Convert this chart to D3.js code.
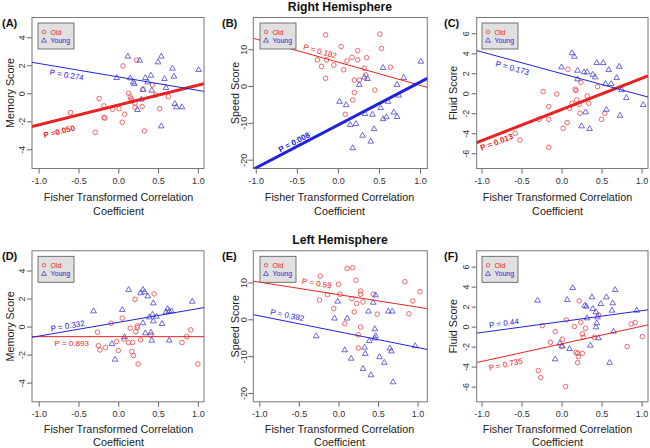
<!DOCTYPE html>
<html><head><meta charset="utf-8">
<script src="https://cdn.jsdelivr.net/npm/d3@7"></script>
<style>body{margin:0;background:#fff} svg{display:block;font-family:"Liberation Sans",Arial,sans-serif}</style>
</head><body><svg id="c" width="650" height="448"></svg>
<script>
// ---------------- DATA ----------------
const panelIds = ["A","B","C","D","E","F"];
const hemispheres = ["Right Hemisphere","Left Hemisphere"];
const scoreNames = ["Memory Score","Speed Score","Fluid Score"];
const xTitleLines = ["Fisher Transformed Correlation","Coefficient"];
const legendLabels = ["Old","Young"];
const xTicks = [-1.0,-0.5,0.0,0.5,1.0];
const yTicksByScore = [[-4,-2,0,2,4],[-20,-10,0,10],[-6,-4,-2,0,2,4,6]];
const yRangesByScore = [[-5.37,5.41],[-22.4,18.6],[-7.52,7.58]];
const xRanges = [[-1.084,1.077],[-1.03,1.088],[-1.06,1.08],[-1.084,1.077],[-1.076,1.123],[-1.06,1.08]];

const oldA = [[-0.60,-1.38],[-0.29,-2.79],[-0.24,-0.38],[-0.18,-0.90],[-0.18,-1.71],[-0.17,-1.78],[-0.07,-1.14],[0.01,-1.10],[0.05,-2.07],[0.06,1.95],[0.08,-1.50],[0.13,0.00],[0.15,-0.25],[0.16,-0.40],[0.17,-0.55],[0.21,-0.70],[0.21,-1.00],[0.23,2.36],[0.30,-0.95],[0.31,0.29],[0.33,-2.69],[0.43,0.60],[0.47,-0.12],[0.52,-1.10],[0.63,-0.24]];
const youngA = [[-0.02,1.14],[0.12,2.67],[0.15,1.12],[0.19,0.83],[0.20,0.71],[0.27,2.38],[0.24,-1.14],[0.29,-0.40],[0.31,0.29],[0.34,1.14],[0.37,0.83],[0.41,1.31],[0.42,0.24],[0.50,2.26],[0.54,2.67],[0.54,-2.31],[0.58,1.07],[0.60,0.43],[0.68,1.81],[0.70,1.24],[0.71,-0.71],[0.73,-0.95],[0.80,-0.95],[1.01,1.71]];
const oldB = [[-0.15,13.9],[-0.25,7.1],[-0.20,5.3],[-0.14,7.1],[-0.15,2.1],[-0.05,5.7],[0.04,10.7],[0.07,4.4],[0.11,6.8],[0.17,7.8],[0.20,1.6],[0.24,9.6],[0.24,7.1],[0.26,1.6],[0.32,4.8],[0.35,7.7],[0.34,3.0],[0.20,-1.8],[0.18,-3.8],[0.09,-7.7],[0.45,-1.1],[0.51,14.1],[0.53,10.2],[0.64,5.1]];
const youngB = [[0.02,-4.1],[0.10,-5.0],[0.15,-10.4],[0.22,-10.1],[0.26,0.5],[0.30,-13.3],[0.32,2.5],[0.36,2.1],[0.33,-7.4],[0.40,-14.9],[0.42,-7.6],[0.44,-11.5],[0.52,-5.8],[0.55,-8.8],[0.55,5.1],[0.59,-8.3],[0.61,-4.1],[0.68,-7.0],[0.72,-8.2],[0.72,0.5],[0.74,-2.4],[0.80,2.4],[1.01,6.8],[0.18,-16.7]];
const oldC = [[-0.23,0.17],[-0.28,-2.6],[-0.16,-1.33],[-0.16,-2.6],[-0.16,-5.4],[-0.06,-0.07],[0.02,-3.5],[0.07,-2.93],[0.08,2.4],[0.10,-1.5],[0.13,-1.0],[0.19,-0.67],[0.22,-1.1],[0.23,-2.0],[0.32,-0.27],[0.34,-1.0],[0.17,0.4],[0.18,0.27],[0.24,1.1],[0.45,0.67],[0.50,-2.6],[0.54,-2.0],[-0.58,-4.0],[-0.52,-4.67]];
const youngC = [[0.00,2.67],[0.13,4.07],[0.16,3.73],[0.20,2.33],[0.20,1.47],[0.28,2.17],[0.32,2.17],[0.25,-3.23],[0.30,-1.83],[0.35,-3.5],[0.39,1.93],[0.42,1.67],[0.44,3.1],[0.52,3.1],[0.55,1.0],[0.56,-1.57],[0.59,2.4],[0.62,1.0],[0.69,1.6],[0.72,2.73],[0.73,-2.17],[0.75,0.4],[0.81,-0.4],[1.02,-1.1]];
const oldD = [[-0.26,-0.40],[-0.25,-1.36],[-0.23,-1.67],[-0.16,-1.50],[-0.09,0.24],[-0.02,-1.07],[0.00,-1.71],[0.05,0.60],[0.07,-0.90],[0.15,-0.12],[0.17,-1.79],[0.19,-2.07],[0.21,1.95],[0.22,-0.36],[0.24,-0.07],[0.24,0.05],[0.13,-1.14],[0.18,-1.14],[0.28,-0.95],[0.25,-2.67],[0.41,-0.60],[0.45,2.33],[0.80,-1.14],[0.86,-0.71],[0.91,-0.24],[1.00,-2.67]];
const youngD = [[-0.31,1.14],[-0.04,-2.31],[-0.08,-1.19],[0.05,1.24],[0.08,-0.71],[0.13,2.67],[0.28,2.43],[0.31,2.67],[0.33,2.50],[0.37,2.21],[0.31,0.29],[0.34,-0.43],[0.39,0.71],[0.41,-0.38],[0.42,-0.95],[0.43,0.90],[0.44,1.71],[0.44,0.43],[0.48,0.76],[0.55,0.24],[0.60,1.07],[0.62,1.31],[0.64,1.14],[0.67,1.14],[0.64,-0.95],[0.93,1.83]];
const oldE = [[-0.23,11.7],[-0.24,5.2],[-0.14,6.7],[-0.06,2.9],[0.00,9.5],[0.02,6.8],[0.08,-1.2],[0.11,13.8],[0.18,14.0],[0.17,5.6],[0.20,2.0],[0.22,10.6],[0.23,4.3],[0.25,-4.2],[0.28,7.7],[0.28,6.8],[0.28,-2.1],[0.31,4.7],[0.25,-7.8],[0.44,6.8],[0.49,1.4],[0.84,10.2],[0.89,1.5],[0.94,5.0],[1.03,7.5]];
const youngE = [[-0.28,-4.4],[-0.01,5.0],[-0.05,0.4],[0.11,0.4],[0.08,-8.2],[0.16,-10.5],[0.33,-7.5],[0.34,-9.2],[0.38,2.3],[0.44,4.7],[0.47,6.7],[0.46,-2.5],[0.47,-4.4],[0.46,-5.0],[0.39,-5.7],[0.52,-10.1],[0.58,-11.6],[0.63,2.3],[0.68,2.3],[0.65,-7.7],[0.67,-8.5],[0.97,-7.1],[0.31,-13.3],[0.41,-15.0],[0.69,-16.9]];
const oldF = [[-0.24,0.10],[-0.08,-0.50],[-0.14,-1.57],[0.00,-2.00],[0.01,-1.27],[0.06,0.67],[0.16,0.00],[0.18,-2.57],[0.20,-2.67],[0.21,-3.00],[0.26,-2.67],[0.22,2.57],[0.24,0.43],[0.26,-0.73],[0.27,-1.07],[0.30,-0.17],[0.41,-1.07],[0.46,1.17],[0.82,-2.00],[0.87,0.27],[0.92,0.40],[1.01,-1.00],[-0.29,-4.4],[-0.26,-5.1],[0.05,-6.0],[0.20,-3.6]];
const youngF = [[-0.30,2.67],[-0.08,-3.2],[-0.02,-1.6],[0.01,-1.9],[0.10,-2.17],[0.07,2.73],[0.14,3.93],[0.29,2.17],[0.31,2.07],[0.32,0.90],[0.36,-1.83],[0.38,3.00],[0.39,1.83],[0.43,1.50],[0.43,0.00],[0.44,0.40],[0.45,1.00],[0.46,-1.10],[0.49,2.33],[0.56,3.00],[0.63,1.67],[0.64,2.40],[0.65,-0.43],[0.67,3.73],[0.94,1.67],[0.60,-3.55]];

// regression fits [intercept, slope]
const oldFits = [[-0.84,1.42],[6.48,-6.29],[-1.63,3.11],[-0.72,0.0],[6.70,-3.39],[-1.73,1.76]];
const youngFits = [[1.17,-0.96],[-10.6,11.66],[1.97,-2.17],[0.30,0.98],[-3.36,-4.30],[0.50,1.09]];
const oldP = ["0.050","0.182","0.013","0.893","0.59","0.735"];
const youngP = ["0.274","0.008","0.173","0.332","0.382","0.44"];
const oldPText = ["P =0.050","P = 0.182","P = 0.013","P = 0.893","P = 0.59","P = 0.735"];
const youngPText = ["P = 0.274","P = 0.008","P = 0.173","P = 0.332","P = 0.382","P = 0.44"];

const oldSets = [oldA,oldB,oldC,oldD,oldE,oldF];
const youngSets = [youngA,youngB,youngC,youngD,youngE,youngF];

// ---------------- LAYOUT ----------------
const RED = "#e82222", BLUE = "#2323d6", RED_PT = "#e8444a", BLUE_PT = "#4545cc";
const cols = [
  {left:32, right:204, tickOff:10, titleOff:22, xTitleX:118.5, label:2, legend:38},
  {left:253.3, right:427.3, tickOff:9, titleOff:18, xTitleX:339.5, label:222, legend:260},
  {left:476.7, right:648, tickOff:11, titleOff:24, xTitleX:557.5, label:444, legend:482}
];
const rows = [{top:17.5, bottom:168.5, title:10.5, xt:32, lh:14}, {top:250.8, bottom:401.8, title:243.5, xt:30.8, lh:13.3}];
// P label placement: [anchor pixel x, vertical offset from line]
const oldLab = [[59.3,12],[320,-5.5],[496.7,7.5],[71.7,6.5],[316.7,-7.5],[505.7,8.5]];
const youngLab = [[66.7,7],[294.3,-5.5],[512.3,8],[67.7,-5],[287.3,-6],[504,-6]];

const svg = d3.select("#c");

rows.forEach((r,ri)=>{
  svg.append("text").attr("x",340).attr("y",r.title).attr("text-anchor","middle")
    .attr("font-size",12.2).attr("font-weight","bold").attr("fill","#111").text(hemispheres[ri]);
});

panelIds.forEach((id,i)=>{
  const ri = Math.floor(i/3), ci = i%3;
  const c = cols[ci], r = rows[ri];
  const x = d3.scaleLinear().domain(xRanges[i]).range([c.left,c.right]);
  const y = d3.scaleLinear().domain(yRangesByScore[ci]).range([r.bottom,r.top]);
  const g = svg.append("g");

  const clipId = "clip"+id;
  g.append("clipPath").attr("id",clipId).append("rect")
    .attr("x",c.left).attr("y",r.top).attr("width",c.right-c.left).attr("height",r.bottom-r.top);

  const xa = g.append("g").attr("transform",`translate(0,${r.bottom})`)
    .call(d3.axisBottom(x).tickValues(xTicks).tickFormat(d3.format(".1f")).tickSize(5).tickSizeOuter(0));
  xa.select(".domain").remove();
  xa.selectAll("line").attr("stroke","#666");
  xa.selectAll("text").attr("font-size",9).attr("fill","#333").attr("dy",0).attr("y",15.5)
    .text(d=>d3.format(".1f")(d).replace("−","-"));

  const ya = g.append("g").attr("transform",`translate(${c.left},0)`)
    .call(d3.axisLeft(y).tickValues(yTicksByScore[ci]).tickSize(5).tickSizeOuter(0));
  ya.select(".domain").remove();
  ya.selectAll("line").attr("stroke","#666");
  ya.selectAll("text").attr("font-size",9).attr("fill","#333")
    .attr("x",null).attr("dy",null).attr("text-anchor","middle").attr("dominant-baseline","central")
    .attr("transform",`translate(${-c.tickOff},0) rotate(-90)`)
    .text(d=>String(d).replace("−","-"));

  g.append("rect").attr("x",c.left).attr("y",r.top).attr("width",c.right-c.left).attr("height",r.bottom-r.top)
    .attr("fill","none").attr("stroke","#777").attr("stroke-width",1);

  g.append("text").attr("transform",`translate(${c.left-c.titleOff},${(r.top+r.bottom)/2}) rotate(-90)`)
    .attr("text-anchor","middle").attr("dominant-baseline","central").attr("font-size",10.8).attr("fill","#222")
    .text(scoreNames[ci]);
  xTitleLines.forEach((t,k)=>{
    g.append("text").attr("x",c.xTitleX).attr("y",r.bottom+r.xt+k*r.lh).attr("text-anchor","middle")
      .attr("font-size",10.8).attr("fill","#222").text(t);
  });
  g.append("text").attr("x",c.label).attr("y",r.top+9.5).attr("font-size",11).attr("font-weight","bold")
    .attr("fill","#111").text(`(${id})`);

  const pg = g.append("g").attr("clip-path",`url(#${clipId})`);
  pg.selectAll("circle.old").data(oldSets[i]).join("circle").attr("class","old")
    .attr("cx",d=>x(d[0])).attr("cy",d=>y(d[1])).attr("r",2.3)
    .attr("fill","none").attr("stroke",RED_PT).attr("stroke-width",0.8);
  const tri = d3.symbol(d3.symbolTriangle,14);
  pg.selectAll("path.young").data(youngSets[i]).join("path").attr("class","young")
    .attr("d",tri).attr("transform",d=>`translate(${x(d[0])},${y(d[1])+0.6})`)
    .attr("fill","none").attr("stroke",BLUE_PT).attr("stroke-width",0.8);

  const fits = [[oldFits[i],oldP[i],oldPText[i],RED,oldLab[i]],[youngFits[i],youngP[i],youngPText[i],BLUE,youngLab[i]]];
  fits.forEach(([f,p,txt,col,lab])=>{
    const sig = +p <= 0.05;
    const [x0,x1] = xRanges[i];
    pg.append("line").attr("x1",x(x0)).attr("y1",y(f[0]+f[1]*x0))
      .attr("x2",x(x1)).attr("y2",y(f[0]+f[1]*x1))
      .attr("stroke",col).attr("stroke-width",sig?3:1);
    const ax = lab[0], ad = x.invert(ax), ay = y(f[0]+f[1]*ad);
    const ang = Math.atan2(y(f[0]+f[1]*x1)-y(f[0]+f[1]*x0), x(x1)-x(x0))*180/Math.PI;
    g.append("text").attr("transform",`translate(${ax},${ay+lab[1]}) rotate(${ang})`)
      .attr("text-anchor","middle").attr("dominant-baseline","central")
      .attr("font-size",8).attr("font-weight",sig?"bold":"normal").attr("fill",col).text(txt);
  });

  const lx = c.legend, ly = r.top+5.5;
  g.append("rect").attr("x",lx).attr("y",ly).attr("width",36).attr("height",26)
    .attr("fill","#e0e0e0").attr("stroke","#555").attr("stroke-width",0.8);
  g.append("circle").attr("cx",lx+6).attr("cy",ly+9).attr("r",1.8).attr("fill","none").attr("stroke",RED_PT).attr("stroke-width",0.8);
  g.append("path").attr("d",d3.symbol(d3.symbolTriangle,11)).attr("transform",`translate(${lx+6},${ly+17.7})`)
    .attr("fill","none").attr("stroke",BLUE_PT).attr("stroke-width",0.8);
  legendLabels.forEach((t,k)=>{
    g.append("text").attr("x",lx+12.5).attr("y",ly+9+k*8.5).attr("dominant-baseline","central")
      .attr("font-size",7).attr("fill",k?BLUE:RED).text(t);
  });
});
</script></body></html>
